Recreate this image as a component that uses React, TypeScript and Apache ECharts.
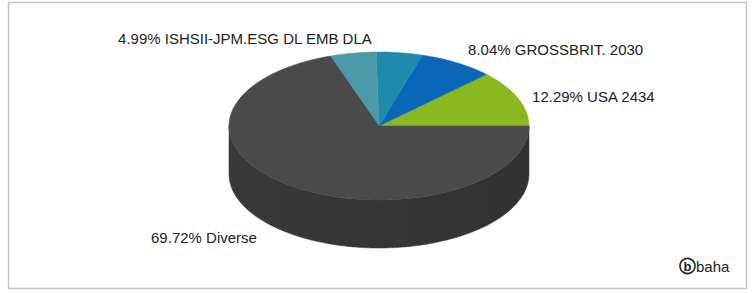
import { useEffect, useRef } from "react";
import * as echarts from "echarts";

// ---- data ----
const names = ["USA 2434", "GROSSBRIT. 2030", "", "ISHSII-JPM.ESG DL EMB DLA", "Diverse"];
const values = [12.29, 8.04, 4.96, 4.99, 69.72];
const showLabel = [true, true, false, true, true];

// ---- styles ----
const topColors = ["#8ab820", "#0a66b6", "#1f8aab", "#4a9aa8", "#4a4a4a"];
const sideColors = ["#6f9418", "#08528f", "#186e89", "#3b7b86", "#353535"];
const labelNudge = [[3, 3], [5, -3], [0, 0], [21, -3], [-28, -7]];
const LAYOUT = { cx: 379, cy: 126, rx: 150, ry: 74, depth: 48, labelGap: 12 };
const FONT = '15px "Liberation Sans", Arial, sans-serif';

const total = values.reduce((a, b) => a + b, 0);
const starts: number[] = [];
const ends: number[] = [];
{
  let acc = 0;
  values.forEach((v) => {
    starts.push(acc / total);
    acc += v;
    ends.push(acc / total);
  });
}
const sliceData = values.map((_, i) => [starts[i], ends[i], i]);

function pt(a: number, dy = 0): number[] {
  const { cx, cy, rx, ry } = LAYOUT;
  return [cx + rx * Math.cos(a), cy - ry * Math.sin(a) + dy];
}

function arcPts(a0: number, a1: number, dy = 0): number[][] {
  const n = Math.max(2, Math.ceil((a1 - a0) / (Math.PI / 180)));
  const out: number[][] = [];
  for (let k = 0; k <= n; k++) out.push(pt(a0 + ((a1 - a0) * k) / n, dy));
  return out;
}

export default function App() {
  const ref = useRef<HTMLDivElement>(null);
  useEffect(() => {
    document.body.style.margin = "0";
    if (!ref.current) return;
    const chart = echarts.init(ref.current, undefined, { renderer: "svg" });

    const renderSide = (_params: any, api: any) => {
      const a0 = api.value(0) * Math.PI * 2;
      const a1 = api.value(1) * Math.PI * 2;
      const i = api.value(2);
      const s = Math.max(a0, Math.PI);
      const e = Math.min(a1, Math.PI * 2);
      if (s >= e) return { type: "group", children: [] };
      const top = arcPts(s, e, 0);
      const bottom = arcPts(s, e, LAYOUT.depth).reverse();
      return {
        type: "group",
        children: [
          {
            type: "polygon",
            shape: { points: top.concat(bottom) },
            style: {
              fill: new echarts.graphic.LinearGradient(0, 0, 1, 0, [
                { offset: 0, color: "#393939" },
                { offset: 0.5, color: sideColors[i] },
                { offset: 1, color: "#323232" },
              ]),
              stroke: sideColors[i],
              lineWidth: 0.5,
            },
          },
        ],
      };
    };

    const renderTop = (_params: any, api: any) => {
      const a0 = api.value(0) * Math.PI * 2;
      const a1 = api.value(1) * Math.PI * 2;
      const i = api.value(2);
      const { cx, cy, rx, ry, depth, labelGap } = LAYOUT;
      const pts = [[cx, cy]].concat(arcPts(a0, a1, 0));
      const children: any[] = [
        {
          type: "polygon",
          shape: { points: pts },
          style: { fill: topColors[i], stroke: topColors[i], lineWidth: 0.5 },
        },
      ];
      if (showLabel[i]) {
        const m = (a0 + a1) / 2;
        const c = Math.cos(m);
        const s = Math.sin(m);
        const x = cx + (rx + labelGap) * c + labelNudge[i][0];
        const y = cy - (ry + labelGap) * s + (s < 0 ? depth : 0) + labelNudge[i][1];
        children.push({
          type: "text",
          style: {
            text: `${values[i].toFixed(2)}% ${names[i]}`,
            x,
            y,
            fill: "#222222",
            font: FONT,
            align: c >= 0 ? "left" : "right",
            verticalAlign: "middle",
          },
        });
      }
      return { type: "group", children };
    };

    chart.setOption({
      animation: false,
      backgroundColor: "#ffffff",
      graphic: [
        {
          type: "rect",
          shape: { x: 8.5, y: 2.5, width: 738, height: 286 },
          style: { fill: "none", stroke: "#c4c4c4", lineWidth: 1.5 },
          z: 0,
        },
        {
          type: "circle",
          shape: { cx: 687.5, cy: 266, r: 7.5 },
          style: { fill: "none", stroke: "#222", lineWidth: 1.6 },
        },
        {
          type: "text",
          style: {
            text: "b",
            x: 687.5,
            y: 266,
            fill: "#222",
            font: 'bold 13px "Liberation Sans", Arial, sans-serif',
            align: "center",
            verticalAlign: "middle",
          },
        },
        {
          type: "text",
          style: {
            text: "baha",
            x: 696,
            y: 266.5,
            fill: "#222",
            font: '15px "Liberation Sans", Arial, sans-serif',
            align: "left",
            verticalAlign: "middle",
          },
        },
      ],
      series: [
        {
          type: "custom",
          coordinateSystem: "none",
          silent: true,
          z: 1,
          data: sliceData,
          renderItem: renderSide,
        },
        {
          type: "custom",
          coordinateSystem: "none",
          silent: true,
          z: 2,
          data: sliceData,
          renderItem: renderTop,
        },
      ],
    });
    return () => chart.dispose();
  }, []);
  return <div ref={ref} style={{ width: 754, height: 293 }} />;
}
